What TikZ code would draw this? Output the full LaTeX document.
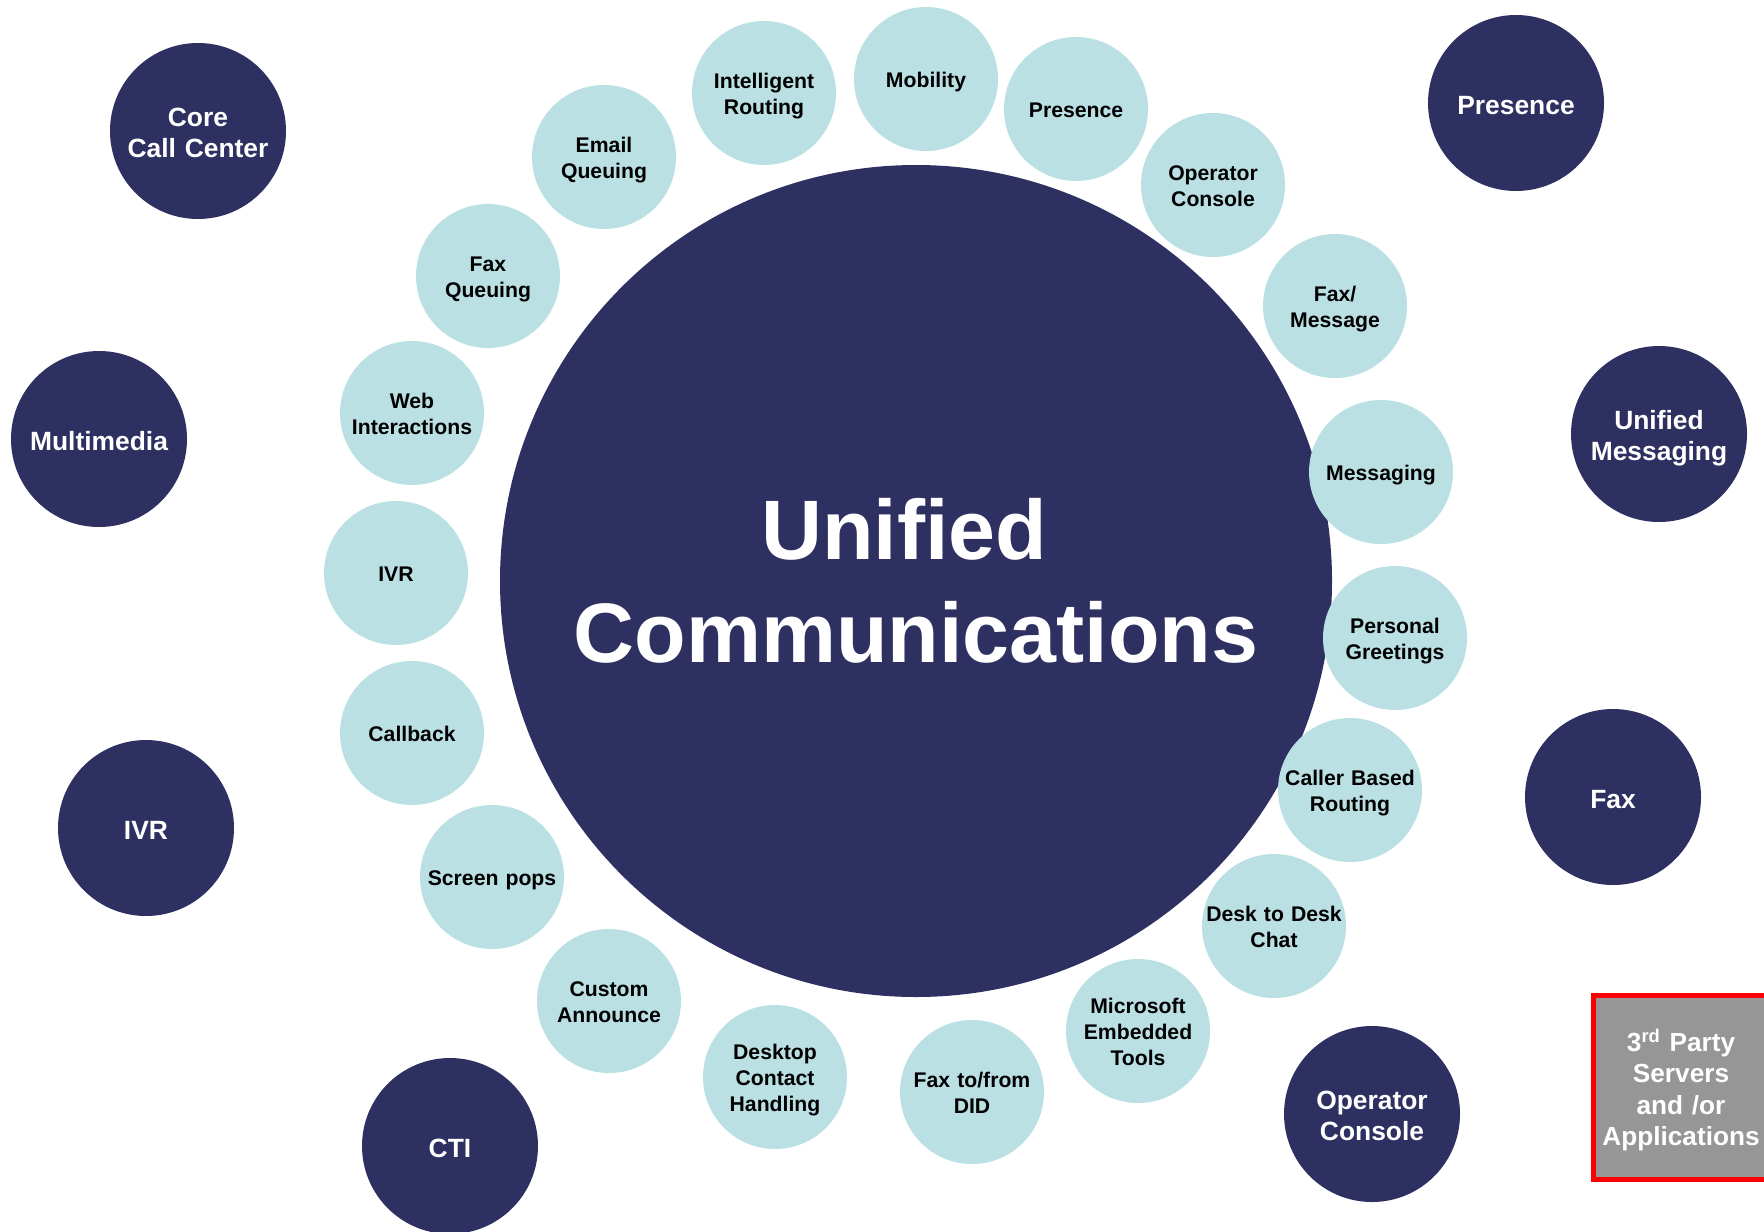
\documentclass[tikz,border=0pt]{standalone}
\usepackage{fontspec}
\setmainfont{Liberation Sans}
\usetikzlibrary{positioning}

\definecolor{ucnavy}{RGB}{45,48,96}
\definecolor{ucaqua}{RGB}{186,224,228}
\definecolor{ucgray}{RGB}{150,150,150}
% line box of the font, so that text sits as in the slide
\newcommand\uctop{\rule{0pt}{1.055em}}
\newcommand\ucbot{\rule[-0.212em]{0pt}{0.212em}}

\begin{document}
\begin{tikzpicture}[x=0.5pt,y=-0.5pt,
  core/.style={circle,fill=ucnavy,text=white,inner sep=0pt,minimum size=416pt,align=center,
    font=\fontsize{42.2}{51.75}\selectfont\bfseries},
  outer/.style={circle,fill=ucnavy,text=white,inner sep=-8pt,minimum size=88pt,
    text width=88pt,align=center,
    font=\fontsize{13.2}{15.75}\selectfont\bfseries,
    execute at begin node=\uctop,execute at end node=\ucbot},
  feat/.style={circle,fill=ucaqua,text=black,inner sep=-10pt,minimum size=72pt,
    text width=72pt,align=center,
    font=\fontsize{10.6}{13}\selectfont\bfseries,
    execute at begin node=\uctop,execute at end node=\ucbot},
  party/.style={rectangle,draw=red,fill=ucgray,line width=2.5pt,text=white,inner sep=0pt,
    minimum width=87.5pt,minimum height=92pt,text width=84pt,align=center,
    font=\fontsize{13.1}{15.8}\selectfont\bfseries,
    execute at begin node=\uctop,execute at end node=\ucbot}]
\useasboundingbox (0,0) rectangle (1764,1231);

\node (uc) at (916,581) [core] {Unified\kern0.278em\\Communications};

% outer ring
\node (corecc) at (198,131) [outer] {Core\\Call Center};
\node (multi) at (99,439) [outer] {Multimedia};
\node (ivrout) at (146,828) [outer] {IVR};
\node (cti) at (450,1146) [outer] {CTI};
\node (opcout) at (1372,1114) [outer] {Operator\\Console};
\node (faxout) at (1613,797) [outer] {Fax};
\node (umsg) at (1659,434) [outer] {Unified\\Messaging};
\node (presout) at (1516,103) [outer] {Presence};

\node (third) at (1681,1087.5) [party] {3\textsuperscript{rd} Party\\Servers\\and /or\\Applications};

% features round the core
\node (introute) at (764,93) [feat] {Intelligent\\Routing};
\node (mobil) at (926,79) [feat] {Mobility};
\node (pres) at (1076,109) [feat] {Presence};
\node (opc) at (1213,185) [feat] {Operator\\Console};
\node (faxmsg) at (1335,306) [feat] {Fax/\\Message};
\node (msg) at (1381,472) [feat] {Messaging};
\node (greet) at (1395,638) [feat] {Personal\\Greetings};
\node (cbr) at (1350,790) [feat] {Caller Based\\Routing};
\node (chat) at (1274,926) [feat] {Desk to Desk\\Chat};
\node (mset) at (1138,1031) [feat] {Microsoft\\Embedded\\Tools};
\node (faxdid) at (972,1092) [feat] {Fax to/from\\DID};
\node (dch) at (775,1077) [feat] {Desktop\\Contact\\Handling};
\node (annc) at (609,1001) [feat] {Custom\\Announce};
\node (spop) at (492,877) [feat] {Screen pops};
\node (cback) at (412,733) [feat] {Callback};
\node (ivr) at (396,573) [feat] {IVR};
\node (web) at (412,413) [feat] {Web\\Interactions};
\node (faxq) at (488,276) [feat] {Fax\\Queuing};
\node (mailq) at (604,157) [feat] {Email\\Queuing};

\end{tikzpicture}
\end{document}
